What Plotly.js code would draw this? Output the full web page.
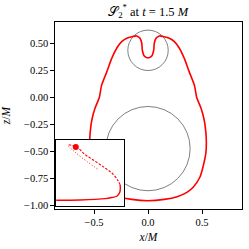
<!DOCTYPE html>
<html><head><meta charset="utf-8">
<script src="https://cdn.plot.ly/plotly-3.0.1.min.js"></script>
<style>html,body{margin:0;padding:0;background:#fff}#plot{width:249px;height:249px}</style>
</head><body><div id="plot"></div>
<script>
// Main surface S2* (x/M, z/M)
const surfX = [0.00, 0.15, 0.27, 0.36, 0.42, 0.48, 0.51, 0.535, 0.54, 0.535, 0.52, 0.49, 0.45, 0.43, 0.38, 0.336, 0.29, 0.244, 0.197, 0.15, 0.105, 0.074, 0.058, 0.053, 0.037, 0.01,
  -0.01, -0.037, -0.053, -0.058, -0.074, -0.105, -0.15, -0.197, -0.244, -0.29, -0.336, -0.38, -0.43, -0.45, -0.49, -0.52, -0.535, -0.54, -0.535, -0.51, -0.48, -0.42, -0.36, -0.27, -0.15, 0.00];
const surfZ = [-0.957, -0.945, -0.92, -0.88, -0.83, -0.74, -0.64, -0.52, -0.42, -0.32, -0.21, -0.10, 0.00, 0.11, 0.24, 0.36, 0.454, 0.515, 0.546, 0.561, 0.568, 0.546, 0.50, 0.438, 0.385, 0.367,
  0.367, 0.385, 0.438, 0.50, 0.546, 0.568, 0.561, 0.546, 0.515, 0.454, 0.36, 0.24, 0.11, 0.00, -0.10, -0.21, -0.32, -0.42, -0.52, -0.64, -0.74, -0.83, -0.88, -0.92, -0.945, -0.957];
// Horizons: centers and radii
const circCx = [0.0, 0.0];
const circCz = [0.435, -0.475];
const circR = [0.187, 0.39];
// Inset (normalized inset coordinates)
const insSolidU = [0.00, 0.35, 0.72, 0.82, 0.89, 0.92, 0.937, 0.94, 0.937];
const insSolidV = [0.082, 0.086, 0.106, 0.124, 0.142, 0.177, 0.218, 0.283, 0.318];
const insDashU = [0.937, 0.912, 0.84, 0.717, 0.571, 0.425, 0.303, 0.171];
const insDashV = [0.318, 0.37, 0.47, 0.571, 0.673, 0.773, 0.885, 0.924];
const insDotU = [0.18, 0.30, 0.45, 0.62];
const insDotV = [0.90, 0.79, 0.67, 0.545];
const markU = [0.288];
const markV = [0.889];
const xTicks = [-0.5, 0.0, 0.5];
const yTicks = [0.5, 0.25, 0.0, -0.25, -0.5, -0.75, -1.0];

const font = {family: 'Liberation Serif, DejaVu Serif, serif', size: 10.5, color: '#000'};
const traces = [
  {x: surfX, y: surfZ, mode: 'lines', line: {color: 'red', width: 1.6, shape: 'spline', smoothing: 0.6}, xaxis: 'x', yaxis: 'y', hoverinfo: 'skip'},
  {x: insSolidU, y: insSolidV, mode: 'lines', line: {color: 'red', width: 1.4, shape: 'spline'}, xaxis: 'x2', yaxis: 'y2'},
  {x: insDashU, y: insDashV, mode: 'lines', line: {color: 'red', width: 1.1, shape: 'spline', dash: '2.5px,1.5px'}, xaxis: 'x2', yaxis: 'y2'},
  {x: insDotU, y: insDotV, mode: 'lines', line: {color: 'red', width: 1, shape: 'spline', dash: '1px,2px'}, xaxis: 'x2', yaxis: 'y2'},
  {x: markU, y: markV, mode: 'markers', marker: {color: 'red', size: 6}, xaxis: 'x2', yaxis: 'y2'}
];
const shapes = circCx.map((c, i) => ({
  type: 'circle', xref: 'x', yref: 'y', layer: 'below',
  x0: c - circR[i], x1: c + circR[i], y0: circCz[i] - circR[i], y1: circCz[i] + circR[i],
  line: {color: '#808080', width: 1}
}));
const layout = {
  width: 249, height: 249, showlegend: false,
  margin: {l: 55, r: 7, t: 22, b: 40, pad: 0},
  paper_bgcolor: '#fff', plot_bgcolor: '#fff',
  font: font,
  title: {text: '𝒮<sub>2</sub><sup>*</sup> at <i>t</i> = 1.5 <i>M</i>', font: {family: font.family, size: 12.5, color: '#000'}, x: 0.595, xanchor: 'center', y: 0.955, yanchor: 'middle'},
  xaxis: {range: [-0.861, 0.870], tickvals: xTicks, tickformat: '.1f', ticks: 'outside', ticklen: 3.5, tickwidth: 1, tickcolor: '#000',
    showline: true, mirror: true, linecolor: '#000', linewidth: 1.1, showgrid: false, zeroline: false,
    title: {text: '<i>x</i>/<i>M</i>', font: {family: font.family, size: 11.5}, standoff: 5}},
  yaxis: {range: [-1.034, 0.697], tickvals: yTicks, tickformat: '.2f', ticks: 'outside', ticklen: 3.5, tickwidth: 1, tickcolor: '#000',
    showline: true, mirror: true, linecolor: '#000', linewidth: 1.1, showgrid: false, zeroline: false,
    title: {text: '<i>z</i>/<i>M</i>', font: {family: font.family, size: 11.5}, standoff: 11}},
  xaxis2: {domain: [0.006, 0.371], anchor: 'y2', range: [0, 1], showticklabels: false, ticks: '', showgrid: false, zeroline: false,
    showline: true, mirror: true, linecolor: '#000', linewidth: 1.1},
  yaxis2: {domain: [0.018, 0.371], anchor: 'x2', range: [0, 1], showticklabels: false, ticks: '', showgrid: false, zeroline: false,
    showline: true, mirror: true, linecolor: '#000', linewidth: 1.1},
  shapes: shapes
};
Plotly.newPlot('plot', traces, layout, {staticPlot: true, displayModeBar: false});
</script></body></html>
